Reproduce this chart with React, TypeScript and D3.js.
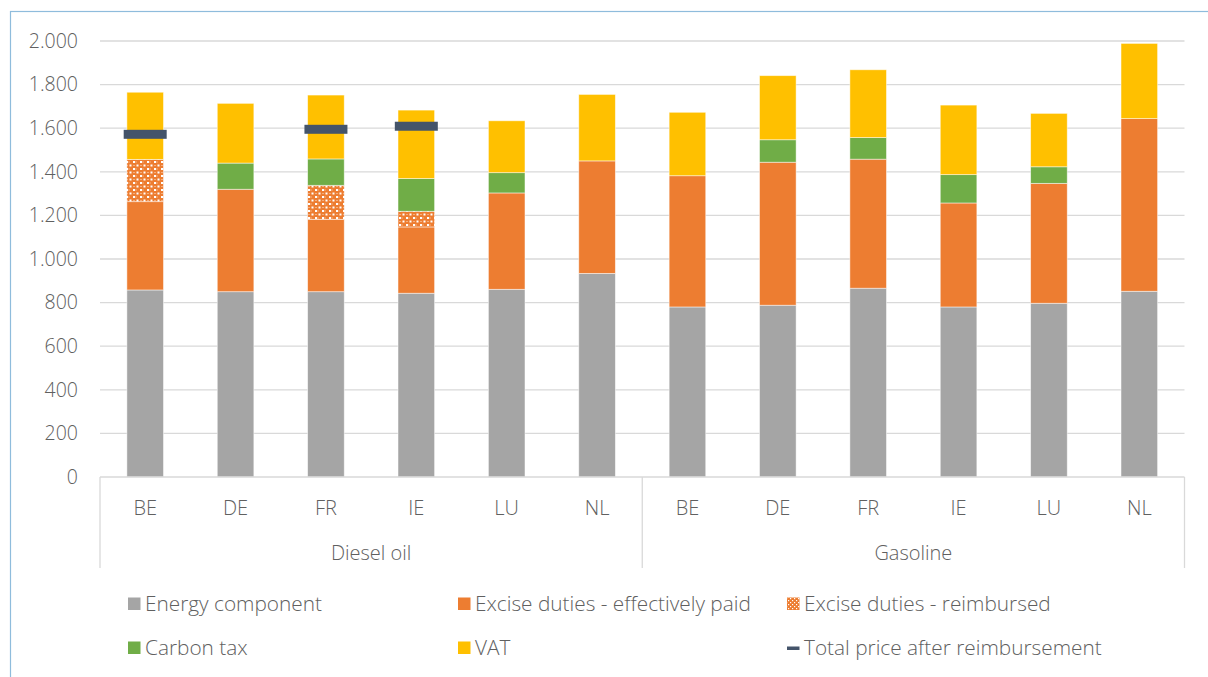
import React from "react";
import * as d3 from "d3";

const countries = ["BE", "DE", "FR", "IE", "LU", "NL"];
const fuels = ["Diesel oil", "Gasoline"];

// Diesel oil then Gasoline, in order of countries
const energy = [858, 850, 850, 843, 861, 934, 780, 788, 866, 780, 797, 852];
const excisePaid = [405, 470, 332, 304, 442, 516, 602, 656, 592, 477, 550, 792];
const exciseReimbursed = [194, 0, 156, 72, 0, 0, 0, 0, 0, 0, 0, 0];
const carbonTax = [0, 120, 121, 150, 93, 0, 0, 103, 99, 130, 76, 0];
const vat = [308, 274, 293, 314, 238, 305, 291, 294, 311, 319, 245, 345];
const totalAfter: (number | null)[] = [1572, null, 1595, 1609, null, null, null, null, null, null, null, null];

const yTicks = [0, 200, 400, 600, 800, 1000, 1200, 1400, 1600, 1800, 2000];

const seriesNames = [
  "Energy component",
  "Excise duties - effectively paid",
  "Excise duties - reimbursed",
  "Carbon tax",
  "VAT",
  "Total price after reimbursement",
];

const COLORS = {
  energy: "#a5a5a5",
  excise: "#ed7d31",
  carbon: "#70ad47",
  vat: "#ffc000",
  total: "#44546a",
};

const FONT = "'Open Sans', 'Noto Sans', sans-serif";
const TEXT = "#606060";

export default function App() {
  const W = 1208;
  const H = 677;
  const left = 100;
  const right = 1184.5;
  const top = 41;
  const bottom = 477;

  const keys = fuels.flatMap((f) => countries.map((c) => f + "|" + c));
  const x = d3.scaleBand<string>().domain(keys).range([left, right]).paddingInner(0.595).paddingOuter(0.2975);
  const y = d3.scaleLinear().domain([0, 2000]).range([bottom, top]);
  const fmt = (v: number) => d3.format(",")(v).replace(/,/g, ".");

  const stacks = [
    { vals: energy, fill: COLORS.energy },
    { vals: excisePaid, fill: COLORS.excise },
    { vals: exciseReimbursed, fill: "url(#reimb)" },
    { vals: carbonTax, fill: COLORS.carbon },
    { vals: vat, fill: COLORS.vat },
  ];

  const bw = x.bandwidth();
  const band = (right - left) / keys.length;

  const rects: React.ReactNode[] = [];
  keys.forEach((k, i) => {
    let acc = 0;
    stacks.forEach((s, si) => {
      const v = s.vals[i];
      if (v > 0) {
        rects.push(
          <rect
            key={k + si}
            x={x(k)!}
            y={y(acc + v)}
            width={bw}
            height={y(acc) - y(acc + v)}
            fill={s.fill}
            stroke="#ffffff"
            strokeOpacity={0.6}
            strokeWidth={0.8}
          />
        );
      }
      acc += v;
    });
  });

  const markers = keys.map((k, i) => {
    const t = totalAfter[i];
    if (t == null) return null;
    const cx = x(k)! + bw / 2;
    return <rect key={"m" + k} x={cx - 21.5} y={y(t) - 4.5} width={43} height={9} fill={COLORS.total} />;
  });

  const legendItems = [
    { name: seriesNames[0], fill: COLORS.energy, col: 0, row: 0, type: "sq" },
    { name: seriesNames[1], fill: COLORS.excise, col: 1, row: 0, type: "sq" },
    { name: seriesNames[2], fill: "url(#reimbL)", col: 2, row: 0, type: "sq" },
    { name: seriesNames[3], fill: COLORS.carbon, col: 0, row: 1, type: "sq" },
    { name: seriesNames[4], fill: COLORS.vat, col: 1, row: 1, type: "sq" },
    { name: seriesNames[5], fill: COLORS.total, col: 2, row: 1, type: "line" },
  ];
  const colX = [128, 458, 787];
  const rowY = [604, 648];

  return (
    <svg
      width={W}
      height={H}
      style={{ position: "absolute", left: 0, top: 0 }}
      fontFamily={FONT}
      fontWeight={300}
    >
      <defs>
        <pattern id="reimb" width={7} height={7} patternUnits="userSpaceOnUse">
          <rect width={7} height={7} fill={COLORS.excise} />
          <rect x={0} y={0} width={2} height={2} fill="#ffffff" />
          <rect x={3.5} y={3.5} width={2} height={2} fill="#ffffff" />
          <rect x={2.5} y={0.5} width={1} height={1} fill="#fbe0cc" />
          <rect x={0.5} y={4} width={1} height={1} fill="#fbe0cc" />
        </pattern>
        <pattern id="reimbL" width={4} height={4} patternUnits="userSpaceOnUse">
          <rect width={4} height={4} fill={COLORS.excise} />
          <rect x={0} y={0} width={1.2} height={1.2} fill="#ffffff" />
          <rect x={2} y={2} width={1.2} height={1.2} fill="#ffffff" />
        </pattern>
      </defs>
      <rect x={0} y={0} width={W} height={H} fill="#ffffff" />
      <rect x={10.5} y={11.5} width={W} height={H} fill="none" stroke="#8fbcdc" strokeWidth={1.2} />

      {yTicks.map((t) =>
        t > 0 ? (
          <line key={"g" + t} x1={left} x2={right} y1={y(t)} y2={y(t)} stroke="#d9d9d9" strokeWidth={1.3} />
        ) : null
      )}
      {yTicks.map((t) => (
        <text
          key={"yl" + t}
          x={78}
          y={y(t)}
          dy="0.35em"
          textAnchor="end"
          fontSize={19.5}
          fill={TEXT}
        >
          {fmt(t)}
        </text>
      ))}

      {rects}
      {markers}

      {/* category axis */}
      <line x1={left} x2={right} y1={bottom} y2={bottom} stroke="#d9d9d9" strokeWidth={1.3} />
      {[0, 6, 12].map((i) => {
        const xx = left + band * i;
        return <line key={"sep" + i} x1={xx} x2={xx} y1={bottom} y2={568} stroke="#d9d9d9" strokeWidth={1.3} />;
      })}
      {keys.map((k) => (
        <text
          key={"cl" + k}
          x={x(k)! + bw / 2}
          y={508}
          dy="0.35em"
          textAnchor="middle"
          fontSize={20}
          fill={TEXT}
        >
          {k.split("|")[1]}
        </text>
      ))}
      {fuels.map((f, fi) => (
        <text
          key={"fl" + f}
          x={left + band * (fi * 6 + 3)}
          y={553}
          dy="0.35em"
          textAnchor="middle"
          fontSize={20}
          fill={TEXT}
        >
          {f}
        </text>
      ))}

      {legendItems.map((it) => {
        const lx = colX[it.col];
        const ly = rowY[it.row];
        return (
          <g key={"lg" + it.name}>
            {it.type === "sq" ? (
              <rect x={lx} y={ly - 6.5} width={12.5} height={12.5} fill={it.fill} />
            ) : (
              <rect x={lx} y={ly - 1.5} width={12.5} height={3.5} fill={it.fill} />
            )}
            <text x={lx + 17} y={ly} dy="0.35em" fontSize={20.8} fill={TEXT}>
              {it.name}
            </text>
          </g>
        );
      })}
    </svg>
  );
}
